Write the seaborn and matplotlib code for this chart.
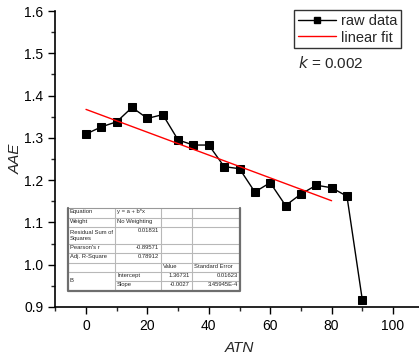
import numpy as np
import pandas as pd
import seaborn as sns
import matplotlib
matplotlib.use("Agg")
import matplotlib.pyplot as plt
import matplotlib.transforms as mtransforms
from matplotlib.lines import Line2D

# ---- data ----
atn = [0, 5, 10, 15, 20, 25, 30, 35, 40, 45, 50, 55, 60, 65, 70, 75, 80, 85, 90]
aae = [1.309, 1.326, 1.338, 1.372, 1.346, 1.355, 1.295, 1.283, 1.283, 1.232,
       1.227, 1.172, 1.194, 1.140, 1.167, 1.188, 1.182, 1.162, 0.917]
fit_x = [0, 80]
intercept = 1.36731
slope = -0.0027
fit_y = [intercept + slope * v for v in fit_x]
x_ticks = [0, 20, 40, 60, 80, 100]
y_ticks = [0.9, 1.0, 1.1, 1.2, 1.3, 1.4, 1.5, 1.6]

table_rows = [
    ["Equation", "y = a + b*x", "", ""],
    ["Weight", "No Weighting", "", ""],
    ["Residual Sum of\nSquares", "0.01831", "", ""],
    ["Pearson's r", "-0.89571", "", ""],
    ["Adj. R-Square", "0.78912", "", ""],
    ["", "", "Value", "Standard Error"],
    ["B", "Intercept", "1.36731", "0.01623"],
    ["", "Slope", "-0.0027", "3.45945E-4"],
]

sns.set_style("ticks")
plt.rcParams['font.family'] = ['Liberation Sans', 'DejaVu Sans']

W, H = 419, 356
fig = plt.figure(figsize=(W / 100, H / 100), dpi=100)
x0_px, xscale = 86.0, 3.07
xmin, xmax = -10.1, 110
ax_left = x0_px + xmin * xscale
ax_right = x0_px + xmax * xscale
ax_top, ax_bot = 11.0, 307.0
ax = fig.add_axes([ax_left / W, (H - ax_bot) / H, (ax_right - ax_left) / W, (ax_bot - ax_top) / H])

df = pd.DataFrame({"ATN": atn, "AAE": aae})
fdf = pd.DataFrame({"ATN": fit_x, "AAE": fit_y})
sns.lineplot(data=df, x="ATN", y="AAE", ax=ax, color="black", marker="s",
             markersize=5.5, markeredgecolor="black", linewidth=1)
sns.lineplot(data=fdf, x="ATN", y="AAE", ax=ax, color="red", linewidth=1)

ax.set_xlim(xmin, xmax)
ax.set_ylim(0.9, 1.6)
ax.set_xticks(x_ticks)
ax.set_yticks(y_ticks)
ax.set_xticklabels([str(v) for v in x_ticks])
ax.set_yticklabels([f"{v:.1f}" for v in y_ticks])
ax.set_xticks(np.arange(-10, 111, 10), minor=True)
ax.set_yticks(np.arange(0.9, 1.601, 0.05), minor=True)
ax.tick_params(axis='both', which='major', direction='out', length=5, width=1, labelsize=10, colors='black')
ax.tick_params(axis='both', which='minor', direction='out', length=3, width=1)
for s in ['top', 'right']:
    ax.spines[s].set_visible(False)
for s in ['left', 'bottom']:
    ax.spines[s].set_linewidth(1.2)
    ax.spines[s].set_color('black')
ax.set_xlabel("ATN", fontsize=11, fontstyle='italic', labelpad=6)
ax.set_ylabel("AAE", fontsize=11, fontstyle='italic', labelpad=1)

handles = [Line2D([0], [0], color='black', marker='s', markersize=4.5, linewidth=1),
           Line2D([0], [0], color='red', linewidth=1)]
leg = ax.legend(handles, ["raw data", "linear fit"], loc='upper left',
                bbox_to_anchor=(294 / W, 1 - 10 / H), bbox_transform=fig.transFigure,
                frameon=True, fancybox=False, fontsize=10.5, handlelength=2.6,
                handletextpad=0.4, borderpad=0.25, labelspacing=0.2, borderaxespad=0)
leg.get_frame().set_edgecolor('black')
leg.get_frame().set_linewidth(1.0)

fig.text(298 / W, 1 - 63 / H, "$k$ = 0.002", fontsize=11, va='center', ha='left')

# ---- fit table drawn in pixel coordinates ----
pix = mtransforms.Affine2D().scale(1, -1).translate(0, H)
col_x = [68, 115, 161, 192, 240]
row_y = [208.3, 217.7, 227.3, 244.3, 253.3, 262.7, 271.7, 281, 291]
fs = 4.2
grid_c = '#b8b8b8'
fig.patches.append(plt.Rectangle((col_x[0], row_y[0]), col_x[-1] - col_x[0], row_y[-1] - row_y[0],
                                 transform=pix, facecolor='white', edgecolor='none', zorder=5))
for i, y in enumerate(row_y[1:-1], start=1):
    if i == 7:
        xs = [col_x[1], col_x[-1]]
    else:
        xs = [col_x[0], col_x[-1]]
    fig.lines.append(Line2D(xs, [y, y], transform=pix, color=grid_c, lw=0.8, zorder=6))
for x in col_x[1:-1]:
    fig.lines.append(Line2D([x, x], [row_y[0], row_y[-1]], transform=pix, color=grid_c, lw=0.8, zorder=6))
fig.lines.append(Line2D([col_x[0], col_x[-1]], [row_y[0], row_y[0]], transform=pix, color='#999999', lw=0.8, zorder=7))
fig.lines.append(Line2D([col_x[0], col_x[0], col_x[-1], col_x[-1]],
                        [row_y[0], row_y[-1], row_y[-1], row_y[0]], transform=pix,
                        color='#6e6e6e', lw=1.6, zorder=7))
for r, row in enumerate(table_rows):
    ytop, ybot = row_y[r], row_y[r + 1]
    for c, txt in enumerate(row):
        if not txt:
            continue
        if r == 6 and c == 0:
            fig.text(col_x[0] + 2, H - row_y[7], txt, transform=None, fontsize=fs,
                     va='center', ha='left', zorder=8)
            continue
        if c == 0 or (c == 1 and r in (0, 1, 6, 7)) or (r == 5):
            x = col_x[c] + 2
            ha = 'left'
        else:
            x = col_x[c + 1] - 2
            ha = 'right'
        if r == 2 and c == 0:
            y = (ytop + ybot) / 2
            va = 'center'
        else:
            y = ytop + 1
            va = 'top'
        fig.text(x, H - y, txt, transform=None, fontsize=fs, va=va, ha=ha, zorder=8,
                 linespacing=1.3)

fig.savefig("out.png", dpi=100)
